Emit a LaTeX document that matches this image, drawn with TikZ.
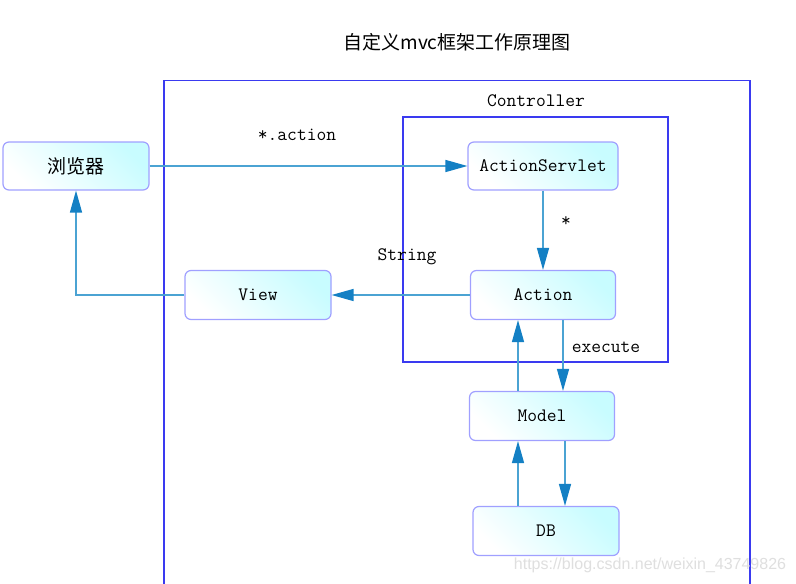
\documentclass[tikz,border=0pt]{standalone}
\usepackage{fontspec}
\newfontfamily\cjk{Noto Sans CJK SC}
\newfontfamily\wmfont{Liberation Sans}
\usetikzlibrary{arrows.meta}
\definecolor{framec}{HTML}{3A3AF0}
\definecolor{nodeb}{HTML}{A0A0FF}
\definecolor{nodef}{HTML}{C8FCFF}
\definecolor{linec}{HTML}{4BA3D3}
\definecolor{tipc}{HTML}{1480C4}
\tikzset{
  box/.style={draw=nodeb, line width=1.2pt, rounded corners=6pt,
    left color=white, right color=nodef, shading angle=135,
    minimum width=146pt, minimum height=48pt, inner sep=0pt,
    font=\fontsize{19pt}{21pt}\selectfont\ttfamily},
  frame/.style={draw=framec, line width=1.3pt},
  conn/.style={draw=linec, line width=1.4pt,
    -{Triangle[length=22pt,width=12pt,color=tipc,fill=tipc]}},
  lbl/.style={font=\fontsize{19pt}{21pt}\selectfont\ttfamily, inner sep=0pt}
}
\begin{document}
\begin{tikzpicture}[x=1pt,y=-1pt]
\useasboundingbox (0,0) rectangle (796,584);
\fill[white] (0,0) rectangle (796,584);
% title
\node[font=\fontsize{19pt}{21pt}\selectfont\cjk, inner sep=0pt] (title) at (457,42) {自定义mvc框架工作原理图};
% outer frame
\draw[frame] (164,584) -- (164,80.5) -- (750,80.5) -- (750,584);
% controller frame
\draw[frame] (403,117) rectangle (668,362);
\node[lbl] (ctrl) at (536,101) {Controller};
% nodes
\node[box, font=\fontsize{19pt}{21pt}\selectfont\cjk] (browser) at (76,166) {浏览器};
\node[box, minimum width=150pt] (servlet) at (543,166) {ActionServlet};
\node[box, minimum width=145pt, minimum height=49pt] (action) at (543,295) {Action};
\node[box, minimum height=49pt] (view) at (258,295) {View};
\node[box, minimum width=145pt, minimum height=49pt] (model) at (542,416) {Model};
\node[box, minimum height=49pt] (db) at (546,531) {DB};
% helper coordinates
\coordinate (xl) at (518,0);
\coordinate (xr1) at (563,0);
\coordinate (xr2) at (565,0);
% connectors
\draw[conn] (browser.east) -- (servlet.west);
\draw[conn] (servlet.south -| action.north) -- (action.north);
\draw[conn] (action.west) -- (view.east);
\draw[conn] (view.west) -| (browser.south);
\draw[conn] (action.south -| xr1) -- (model.north -| xr1);
\draw[conn] (model.north -| xl) -- (action.south -| xl);
\draw[conn] (model.south -| xr2) -- (db.north -| xr2);
\draw[conn] (db.north -| xl) -- (model.south -| xl);
% labels
\node[lbl] (l1) at (297,135) {*.action};
\node[lbl] (l2) at (566,222) {*};
\node[lbl] (l3) at (407,257) {String};
\node[lbl] (l4) at (606,347) {execute};
% watermark
\node[font=\fontsize{16pt}{18pt}\selectfont\wmfont, text=gray!25, inner sep=0pt] (wm) at (650,565) {https://blog.csdn.net/weixin\_43749826};
\end{tikzpicture}
\end{document}
